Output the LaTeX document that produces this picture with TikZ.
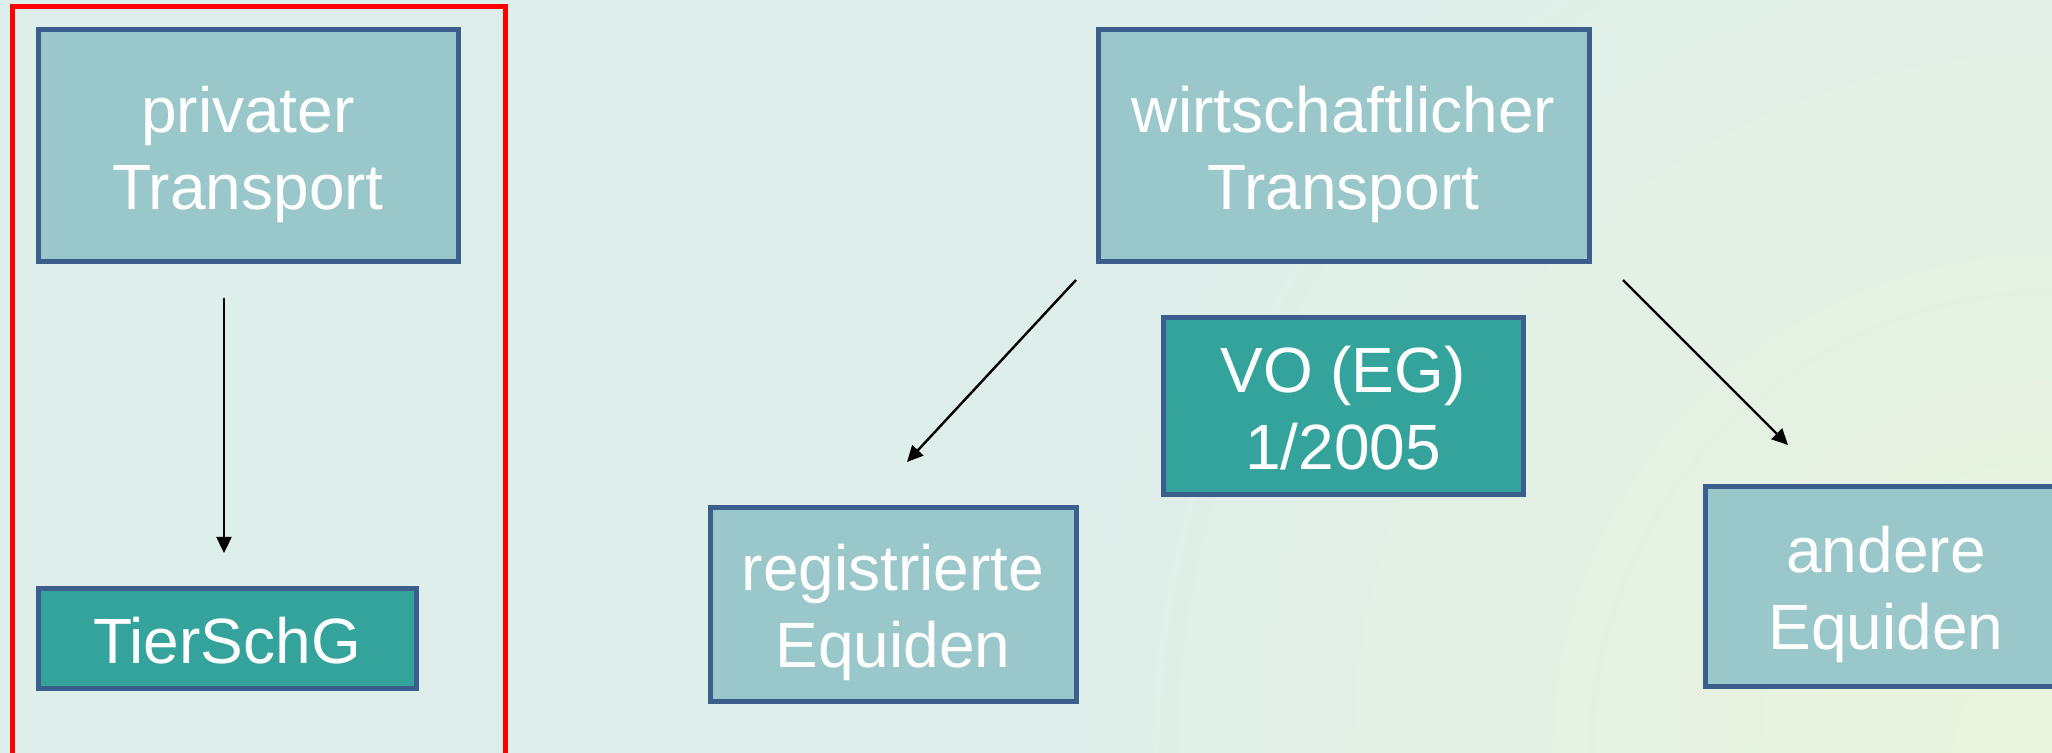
\documentclass[tikz,border=0pt]{standalone}
\usepackage{fontspec}
\setmainfont{Liberation Sans}
\usetikzlibrary{arrows.meta}
\definecolor{bgcol}{HTML}{DEEEEA}
\definecolor{bgyel}{HTML}{EAF3DC}
\definecolor{boxfill}{HTML}{9AC7CA}
\definecolor{lawfill}{HTML}{33A39C}
\definecolor{boxline}{HTML}{3B5E8C}
\newcommand\tstr{\rule{0pt}{0.986em}}
\newcommand\bstr{\rule[-0.22em]{0pt}{0pt}}
\begin{document}
\begin{tikzpicture}[x=0.5pt,y=-0.5pt,
  box/.style={draw=boxline, line width=2.5pt, fill=boxfill, text=white, align=center, inner sep=0pt,
    font=\fontsize{32}{38.5}\selectfont},
  lawbox/.style={box, fill=lawfill},
  conn/.style={-{Triangle[length=8pt,width=7.5pt]}, line width=1.2pt, black}]
\useasboundingbox (0,0) rectangle (2052,753);
\fill[bgcol] (0,0) rectangle (2052,753);
\begin{scope}
\clip (0,0) rectangle (2052,753);
\shade[inner color=bgyel, outer color=bgcol] (2052,753) circle[radius=1000];
\end{scope}
\draw[red, line width=2.5pt] (12,7) rectangle (505,770);
\node[box, minimum width=210pt, minimum height=116pt] (priv) at (248,146) {\tstr privater\\Transport\bstr};
\node[lawbox, minimum width=189pt, minimum height=49.5pt] (tier) at (227,638.5) {\tstr TierSchG\bstr};
\node[box, minimum width=245.5pt, minimum height=116pt] (wirt) at (1343.5,146) {\tstr wirtschaftlicher\\Transport\bstr};
\node[lawbox, minimum width=180pt, minimum height=88.5pt] (vo) at (1343,406.5) {\tstr VO (EG)\\1/2005\bstr};
\node[box, minimum width=183pt, minimum height=96.5pt] (reg) at (893,604.5) {\tstr registrierte\\Equiden\bstr};
\node[box, minimum width=181pt, minimum height=99.5pt] (and) at (1886,586.5) {\tstr andere\\Equiden\bstr};
\coordinate (p1) at (224,298);
\coordinate (p2) at (224,553);
\coordinate (l1) at (1076,280);
\coordinate (l2) at (907,462);
\coordinate (r1) at (1623,280);
\coordinate (r2) at (1788,445);
\draw[conn] (p1) -- (p2);
\draw[conn] (l1) -- (l2);
\draw[conn] (r1) -- (r2);
\end{tikzpicture}
\end{document}
